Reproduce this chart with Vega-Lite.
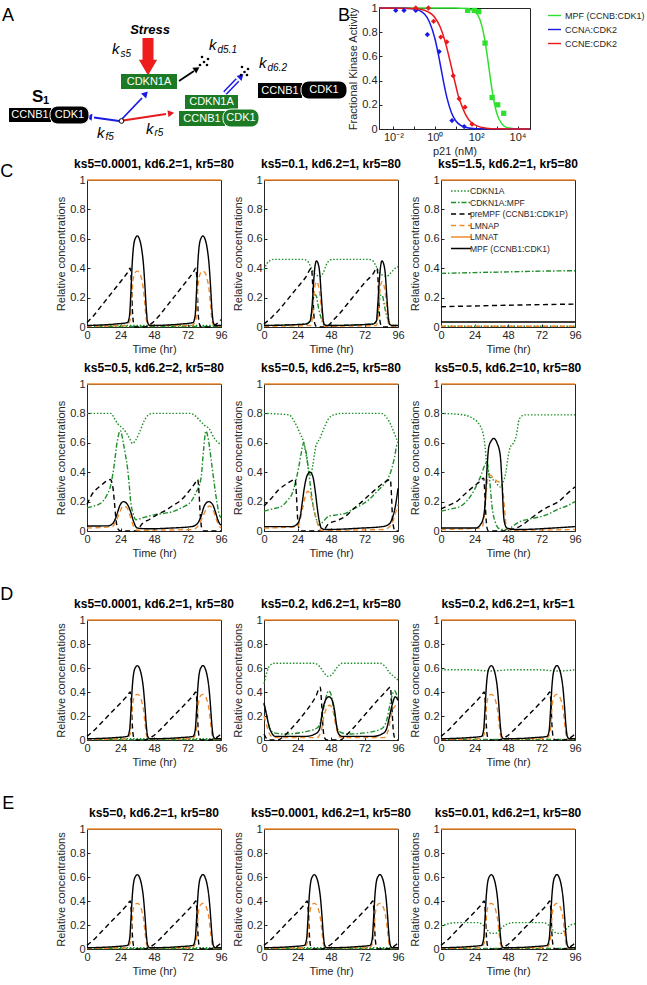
{
"$schema":"https://vega.github.io/schema/vega-lite/v6.json",
"padding":{"top":1,"left":0,"right":0,"bottom":0},
"background":"white",
"config":{
 "font":"Liberation Sans",
 "view":{"stroke":"#262626","strokeWidth":1},
 "axis":{"grid":false,"domainColor":"#262626","tickColor":"#262626","labelColor":"#262626","titleColor":"#262626","labelFontSize":11,"titleFontSize":11,"titleFontWeight":"normal","tickSize":-3,"labelPadding":5,"labelFlush":false,"labelOverlap":false,"labelBound":false,"titlePadding":3},
 "title":{"fontSize":12,"fontWeight":"bold","offset":3,"color":"#000000"},
 "line":{"strokeWidth":1.4,"interpolate":"monotone"}
},
"datasets":{
"lowA":[{"s":"A","t":0,"v":0.01},{"s":"A","t":96,"v":0.01},{"s":"AM","t":0,"v":0.003},{"s":"AM","t":96,"v":0.003}],
"base":[
{"s":"P","t":0,"v":0.03},{"s":"P","t":5,"v":0.08},{"s":"P","t":10,"v":0.14},{"s":"P","t":15,"v":0.2},{"s":"P","t":20,"v":0.26},{"s":"P","t":25,"v":0.32},{"s":"P","t":29,"v":0.37},{"s":"P","t":31,"v":0.4},{"s":"P","t":31.8,"v":0.3},{"s":"P","t":32.5,"v":0.12},{"s":"P","t":33.5,"v":0.02},{"s":"P","t":35,"v":0},{"s":"P","t":41,"v":0},{"s":"P","t":44,"v":0.01},{"s":"P","t":47,"v":0.03},{"s":"P","t":52,"v":0.08},{"s":"P","t":57,"v":0.14},{"s":"P","t":62,"v":0.2},{"s":"P","t":67,"v":0.26},{"s":"P","t":72,"v":0.32},{"s":"P","t":76,"v":0.37},{"s":"P","t":78,"v":0.4},{"s":"P","t":78.8,"v":0.3},{"s":"P","t":79.5,"v":0.12},{"s":"P","t":80.5,"v":0.02},{"s":"P","t":82,"v":0},{"s":"P","t":88,"v":0},{"s":"P","t":91,"v":0.01},{"s":"P","t":94,"v":0.03},{"s":"P","t":96,"v":0.05},
{"s":"LP","t":0,"v":0.005},{"s":"LP","t":28,"v":0.01},{"s":"LP","t":31,"v":0.05},{"s":"LP","t":32,"v":0.2},{"s":"LP","t":33,"v":0.32},{"s":"LP","t":34.5,"v":0.37},{"s":"LP","t":36,"v":0.38},{"s":"LP","t":37.5,"v":0.37},{"s":"LP","t":39,"v":0.33},{"s":"LP","t":40.5,"v":0.25},{"s":"LP","t":41.5,"v":0.15},{"s":"LP","t":42.5,"v":0.05},{"s":"LP","t":44,"v":0.01},{"s":"LP","t":75,"v":0.01},{"s":"LP","t":78,"v":0.05},{"s":"LP","t":79,"v":0.2},{"s":"LP","t":80,"v":0.32},{"s":"LP","t":81.5,"v":0.37},{"s":"LP","t":83,"v":0.38},{"s":"LP","t":84.5,"v":0.37},{"s":"LP","t":86,"v":0.33},{"s":"LP","t":87.5,"v":0.25},{"s":"LP","t":88.5,"v":0.15},{"s":"LP","t":89.5,"v":0.05},{"s":"LP","t":91,"v":0.01},{"s":"LP","t":96,"v":0.005},
{"s":"LT","t":0,"v":1},{"s":"LT","t":96,"v":1},
{"s":"M","t":0,"v":0.01},{"s":"M","t":20,"v":0.02},{"s":"M","t":29,"v":0.03},{"s":"M","t":30.5,"v":0.08},{"s":"M","t":31.5,"v":0.25},{"s":"M","t":32.5,"v":0.45},{"s":"M","t":33.5,"v":0.56},{"s":"M","t":35,"v":0.61},{"s":"M","t":36,"v":0.62},{"s":"M","t":37.5,"v":0.6},{"s":"M","t":39,"v":0.54},{"s":"M","t":40.5,"v":0.42},{"s":"M","t":41.5,"v":0.28},{"s":"M","t":42.5,"v":0.12},{"s":"M","t":43.5,"v":0.03},{"s":"M","t":45,"v":0.01},{"s":"M","t":67,"v":0.02},{"s":"M","t":76,"v":0.03},{"s":"M","t":77.5,"v":0.08},{"s":"M","t":78.5,"v":0.25},{"s":"M","t":79.5,"v":0.45},{"s":"M","t":80.5,"v":0.56},{"s":"M","t":82,"v":0.61},{"s":"M","t":83,"v":0.62},{"s":"M","t":84.5,"v":0.6},{"s":"M","t":86,"v":0.54},{"s":"M","t":87.5,"v":0.42},{"s":"M","t":88.5,"v":0.28},{"s":"M","t":89.5,"v":0.12},{"s":"M","t":90.5,"v":0.03},{"s":"M","t":92,"v":0.01},{"s":"M","t":96,"v":0.01}],
"c2":[
{"s":"A","t":0,"v":0.39},{"s":"A","t":2,"v":0.43},{"s":"A","t":4,"v":0.45},{"s":"A","t":7,"v":0.46},{"s":"A","t":28,"v":0.46},{"s":"A","t":31,"v":0.45},{"s":"A","t":33,"v":0.42},{"s":"A","t":35,"v":0.38},{"s":"A","t":37.5,"v":0.355},{"s":"A","t":40.5,"v":0.345},{"s":"A","t":42.5,"v":0.37},{"s":"A","t":44.5,"v":0.42},{"s":"A","t":46.5,"v":0.45},{"s":"A","t":49,"v":0.46},{"s":"A","t":75,"v":0.46},{"s":"A","t":78,"v":0.45},{"s":"A","t":80,"v":0.42},{"s":"A","t":82,"v":0.38},{"s":"A","t":84.5,"v":0.355},{"s":"A","t":88,"v":0.345},{"s":"A","t":90,"v":0.36},{"s":"A","t":92,"v":0.38},{"s":"A","t":94,"v":0.4},{"s":"A","t":96,"v":0.41},
{"s":"AM","t":0,"v":0.01},{"s":"AM","t":30,"v":0.02},{"s":"AM","t":33,"v":0.04},{"s":"AM","t":34.5,"v":0.12},{"s":"AM","t":35.5,"v":0.2},{"s":"AM","t":36.5,"v":0.22},{"s":"AM","t":37.5,"v":0.21},{"s":"AM","t":38.5,"v":0.16},{"s":"AM","t":39.5,"v":0.11},{"s":"AM","t":41,"v":0.06},{"s":"AM","t":42.5,"v":0.02},{"s":"AM","t":44,"v":0.01},{"s":"AM","t":78,"v":0.02},{"s":"AM","t":80.5,"v":0.04},{"s":"AM","t":82,"v":0.12},{"s":"AM","t":83,"v":0.2},{"s":"AM","t":84,"v":0.22},{"s":"AM","t":85,"v":0.21},{"s":"AM","t":86,"v":0.16},{"s":"AM","t":87,"v":0.11},{"s":"AM","t":88.5,"v":0.06},{"s":"AM","t":90,"v":0.02},{"s":"AM","t":92,"v":0.01},{"s":"AM","t":96,"v":0.01},
{"s":"P","t":0,"v":0.02},{"s":"P","t":6,"v":0.07},{"s":"P","t":12,"v":0.13},{"s":"P","t":18,"v":0.2},{"s":"P","t":24,"v":0.27},{"s":"P","t":30,"v":0.34},{"s":"P","t":34,"v":0.4},{"s":"P","t":34.8,"v":0.3},{"s":"P","t":35.5,"v":0.12},{"s":"P","t":36.5,"v":0.02},{"s":"P","t":38,"v":0},{"s":"P","t":43,"v":0},{"s":"P","t":46,"v":0.01},{"s":"P","t":50,"v":0.05},{"s":"P","t":54,"v":0.09},{"s":"P","t":60,"v":0.16},{"s":"P","t":66,"v":0.23},{"s":"P","t":72,"v":0.3},{"s":"P","t":78,"v":0.36},{"s":"P","t":81,"v":0.4},{"s":"P","t":81.8,"v":0.3},{"s":"P","t":82.5,"v":0.12},{"s":"P","t":83.5,"v":0.02},{"s":"P","t":85,"v":0},{"s":"P","t":92,"v":0},{"s":"P","t":96,"v":0.02},
{"s":"LP","t":0,"v":0.005},{"s":"LP","t":33.5,"v":0.01},{"s":"LP","t":34.5,"v":0.05},{"s":"LP","t":35.5,"v":0.18},{"s":"LP","t":36.5,"v":0.28},{"s":"LP","t":37.7,"v":0.31},{"s":"LP","t":39,"v":0.28},{"s":"LP","t":40.3,"v":0.2},{"s":"LP","t":41.3,"v":0.1},{"s":"LP","t":42.3,"v":0.02},{"s":"LP","t":44,"v":0.005},{"s":"LP","t":80.5,"v":0.01},{"s":"LP","t":81.5,"v":0.05},{"s":"LP","t":82.5,"v":0.18},{"s":"LP","t":83.5,"v":0.28},{"s":"LP","t":84.7,"v":0.31},{"s":"LP","t":86,"v":0.28},{"s":"LP","t":87.3,"v":0.2},{"s":"LP","t":88.3,"v":0.1},{"s":"LP","t":89.3,"v":0.02},{"s":"LP","t":91,"v":0.005},{"s":"LP","t":96,"v":0.005},
{"s":"LT","t":0,"v":1},{"s":"LT","t":96,"v":1},
{"s":"M","t":0,"v":0.01},{"s":"M","t":30,"v":0.02},{"s":"M","t":33,"v":0.04},{"s":"M","t":34.5,"v":0.15},{"s":"M","t":35.5,"v":0.3},{"s":"M","t":36.5,"v":0.41},{"s":"M","t":37.6,"v":0.45},{"s":"M","t":38.8,"v":0.43},{"s":"M","t":40,"v":0.36},{"s":"M","t":41,"v":0.22},{"s":"M","t":42,"v":0.09},{"s":"M","t":43,"v":0.02},{"s":"M","t":45,"v":0.01},{"s":"M","t":78,"v":0.02},{"s":"M","t":80.5,"v":0.04},{"s":"M","t":81.5,"v":0.15},{"s":"M","t":82.5,"v":0.3},{"s":"M","t":83.5,"v":0.41},{"s":"M","t":84.5,"v":0.45},{"s":"M","t":85.7,"v":0.43},{"s":"M","t":86.9,"v":0.36},{"s":"M","t":87.9,"v":0.22},{"s":"M","t":88.9,"v":0.09},{"s":"M","t":89.9,"v":0.02},{"s":"M","t":92,"v":0.01},{"s":"M","t":96,"v":0.01}],
"c3":[
{"s":"A","t":0,"v":0.005},{"s":"A","t":96,"v":0.005},
{"s":"AM","t":0,"v":0.365},{"s":"AM","t":24,"v":0.37},{"s":"AM","t":48,"v":0.375},{"s":"AM","t":72,"v":0.38},{"s":"AM","t":96,"v":0.383},
{"s":"P","t":0,"v":0.138},{"s":"P","t":48,"v":0.148},{"s":"P","t":96,"v":0.156},
{"s":"LP","t":0,"v":0.005},{"s":"LP","t":96,"v":0.005},
{"s":"LT","t":0,"v":1},{"s":"LT","t":96,"v":1},
{"s":"M","t":0,"v":0.034},{"s":"M","t":96,"v":0.034}],
"c4":[
{"s":"A","t":0,"v":0.8},{"s":"A","t":17,"v":0.8},{"s":"A","t":20,"v":0.76},{"s":"A","t":22,"v":0.73},{"s":"A","t":25.5,"v":0.7},{"s":"A","t":28,"v":0.67},{"s":"A","t":30.5,"v":0.63},{"s":"A","t":32.7,"v":0.595},{"s":"A","t":35,"v":0.62},{"s":"A","t":38,"v":0.68},{"s":"A","t":41,"v":0.75},{"s":"A","t":44,"v":0.79},{"s":"A","t":47,"v":0.8},{"s":"A","t":74,"v":0.8},{"s":"A","t":78,"v":0.78},{"s":"A","t":81,"v":0.75},{"s":"A","t":84,"v":0.72},{"s":"A","t":88,"v":0.69},{"s":"A","t":90,"v":0.65},{"s":"A","t":93,"v":0.61},{"s":"A","t":96,"v":0.59},
{"s":"AM","t":0,"v":0.158},{"s":"AM","t":5,"v":0.17},{"s":"AM","t":10,"v":0.19},{"s":"AM","t":14,"v":0.24},{"s":"AM","t":17.2,"v":0.32},{"s":"AM","t":19.5,"v":0.45},{"s":"AM","t":21.5,"v":0.6},{"s":"AM","t":23.9,"v":0.683},{"s":"AM","t":26,"v":0.6},{"s":"AM","t":27.5,"v":0.52},{"s":"AM","t":29,"v":0.43},{"s":"AM","t":30.2,"v":0.32},{"s":"AM","t":31.3,"v":0.2},{"s":"AM","t":33,"v":0.12},{"s":"AM","t":35,"v":0.077},{"s":"AM","t":40,"v":0.09},{"s":"AM","t":48,"v":0.11},{"s":"AM","t":55,"v":0.12},{"s":"AM","t":62.5,"v":0.135},{"s":"AM","t":68,"v":0.16},{"s":"AM","t":74.5,"v":0.2},{"s":"AM","t":78,"v":0.26},{"s":"AM","t":81.7,"v":0.36},{"s":"AM","t":83.5,"v":0.55},{"s":"AM","t":85.2,"v":0.68},{"s":"AM","t":87,"v":0.62},{"s":"AM","t":89,"v":0.48},{"s":"AM","t":91.2,"v":0.32},{"s":"AM","t":93,"v":0.2},{"s":"AM","t":94.8,"v":0.11},{"s":"AM","t":96,"v":0.09},
{"s":"P","t":0,"v":0.18},{"s":"P","t":3,"v":0.24},{"s":"P","t":10,"v":0.31},{"s":"P","t":14,"v":0.34},{"s":"P","t":16.7,"v":0.35},{"s":"P","t":18.5,"v":0.3},{"s":"P","t":19.6,"v":0.2},{"s":"P","t":21,"v":0.06},{"s":"P","t":22.5,"v":0.01},{"s":"P","t":24,"v":0},{"s":"P","t":36,"v":0},{"s":"P","t":38.7,"v":0.04},{"s":"P","t":45,"v":0.08},{"s":"P","t":50,"v":0.11},{"s":"P","t":55.4,"v":0.135},{"s":"P","t":61,"v":0.17},{"s":"P","t":67.3,"v":0.21},{"s":"P","t":73,"v":0.27},{"s":"P","t":77,"v":0.32},{"s":"P","t":79.3,"v":0.35},{"s":"P","t":80.3,"v":0.25},{"s":"P","t":81.2,"v":0.1},{"s":"P","t":82.2,"v":0.02},{"s":"P","t":84,"v":0},{"s":"P","t":96,"v":0},
{"s":"LP","t":0,"v":0.02},{"s":"LP","t":18,"v":0.03},{"s":"LP","t":21,"v":0.07},{"s":"LP","t":23.5,"v":0.13},{"s":"LP","t":26,"v":0.17},{"s":"LP","t":28.5,"v":0.16},{"s":"LP","t":31,"v":0.1},{"s":"LP","t":33,"v":0.04},{"s":"LP","t":36,"v":0.005},{"s":"LP","t":76,"v":0.01},{"s":"LP","t":80,"v":0.04},{"s":"LP","t":83,"v":0.1},{"s":"LP","t":85.5,"v":0.15},{"s":"LP","t":88,"v":0.17},{"s":"LP","t":90.5,"v":0.14},{"s":"LP","t":93,"v":0.07},{"s":"LP","t":95,"v":0.03},{"s":"LP","t":96,"v":0.02},
{"s":"LT","t":0,"v":1},{"s":"LT","t":96,"v":1},
{"s":"M","t":0,"v":0.034},{"s":"M","t":15,"v":0.035},{"s":"M","t":18.4,"v":0.05},{"s":"M","t":21,"v":0.1},{"s":"M","t":23.4,"v":0.17},{"s":"M","t":26.2,"v":0.2},{"s":"M","t":29,"v":0.18},{"s":"M","t":31.3,"v":0.13},{"s":"M","t":33.2,"v":0.07},{"s":"M","t":36,"v":0.02},{"s":"M","t":45,"v":0.015},{"s":"M","t":60,"v":0.02},{"s":"M","t":75,"v":0.03},{"s":"M","t":79,"v":0.05},{"s":"M","t":81.7,"v":0.1},{"s":"M","t":84,"v":0.17},{"s":"M","t":87.2,"v":0.2},{"s":"M","t":90,"v":0.18},{"s":"M","t":92,"v":0.13},{"s":"M","t":93.6,"v":0.08},{"s":"M","t":95,"v":0.05},{"s":"M","t":96,"v":0.04}],
"c5":[
{"s":"A","t":0,"v":0.8},{"s":"A","t":18,"v":0.79},{"s":"A","t":22,"v":0.74},{"s":"A","t":26,"v":0.66},{"s":"A","t":28.5,"v":0.6},{"s":"A","t":30.5,"v":0.5},{"s":"A","t":32,"v":0.42},{"s":"A","t":33.5,"v":0.38},{"s":"A","t":35,"v":0.45},{"s":"A","t":37,"v":0.57},{"s":"A","t":40,"v":0.63},{"s":"A","t":43,"v":0.7},{"s":"A","t":46,"v":0.76},{"s":"A","t":50,"v":0.79},{"s":"A","t":56,"v":0.8},{"s":"A","t":84,"v":0.8},{"s":"A","t":88,"v":0.77},{"s":"A","t":91,"v":0.72},{"s":"A","t":94,"v":0.65},{"s":"A","t":96,"v":0.6},
{"s":"AM","t":0,"v":0.135},{"s":"AM","t":6,"v":0.15},{"s":"AM","t":12.9,"v":0.17},{"s":"AM","t":17,"v":0.21},{"s":"AM","t":20,"v":0.25},{"s":"AM","t":22.5,"v":0.33},{"s":"AM","t":24.8,"v":0.43},{"s":"AM","t":26.7,"v":0.53},{"s":"AM","t":28.4,"v":0.6},{"s":"AM","t":29.6,"v":0.56},{"s":"AM","t":30.8,"v":0.5},{"s":"AM","t":32,"v":0.4},{"s":"AM","t":33.2,"v":0.31},{"s":"AM","t":34.4,"v":0.22},{"s":"AM","t":35.6,"v":0.15},{"s":"AM","t":37.5,"v":0.08},{"s":"AM","t":39.2,"v":0.04},{"s":"AM","t":42,"v":0.06},{"s":"AM","t":46.3,"v":0.1},{"s":"AM","t":52,"v":0.11},{"s":"AM","t":58.3,"v":0.12},{"s":"AM","t":64,"v":0.15},{"s":"AM","t":70.2,"v":0.18},{"s":"AM","t":76,"v":0.22},{"s":"AM","t":82.1,"v":0.28},{"s":"AM","t":87,"v":0.33},{"s":"AM","t":89.5,"v":0.37},{"s":"AM","t":91.7,"v":0.43},{"s":"AM","t":93.5,"v":0.5},{"s":"AM","t":95.3,"v":0.59},{"s":"AM","t":96,"v":0.6},
{"s":"P","t":0,"v":0.17},{"s":"P","t":5,"v":0.22},{"s":"P","t":10.5,"v":0.28},{"s":"P","t":16,"v":0.32},{"s":"P","t":22.4,"v":0.35},{"s":"P","t":23.2,"v":0.25},{"s":"P","t":24,"v":0.1},{"s":"P","t":25,"v":0.02},{"s":"P","t":27,"v":0},{"s":"P","t":42,"v":0},{"s":"P","t":46.3,"v":0.05},{"s":"P","t":52,"v":0.07},{"s":"P","t":58.3,"v":0.1},{"s":"P","t":64,"v":0.15},{"s":"P","t":70.2,"v":0.2},{"s":"P","t":76,"v":0.25},{"s":"P","t":82.1,"v":0.3},{"s":"P","t":86,"v":0.33},{"s":"P","t":90.5,"v":0.35},{"s":"P","t":91.3,"v":0.25},{"s":"P","t":92,"v":0.1},{"s":"P","t":93,"v":0.02},{"s":"P","t":94,"v":0},{"s":"P","t":96,"v":0},
{"s":"LP","t":0,"v":0.02},{"s":"LP","t":24,"v":0.03},{"s":"LP","t":26,"v":0.08},{"s":"LP","t":28,"v":0.17},{"s":"LP","t":30,"v":0.25},{"s":"LP","t":31.5,"v":0.27},{"s":"LP","t":33,"v":0.25},{"s":"LP","t":35,"v":0.18},{"s":"LP","t":37,"v":0.1},{"s":"LP","t":39,"v":0.03},{"s":"LP","t":41,"v":0.005},{"s":"LP","t":86,"v":0.01},{"s":"LP","t":90,"v":0.03},{"s":"LP","t":92.5,"v":0.07},{"s":"LP","t":94.5,"v":0.13},{"s":"LP","t":96,"v":0.18},
{"s":"LT","t":0,"v":1},{"s":"LT","t":96,"v":1},
{"s":"M","t":0,"v":0.03},{"s":"M","t":20,"v":0.03},{"s":"M","t":24,"v":0.05},{"s":"M","t":26,"v":0.1},{"s":"M","t":27.5,"v":0.2},{"s":"M","t":29,"v":0.3},{"s":"M","t":31,"v":0.38},{"s":"M","t":33,"v":0.4},{"s":"M","t":35,"v":0.37},{"s":"M","t":36,"v":0.32},{"s":"M","t":37,"v":0.25},{"s":"M","t":38,"v":0.17},{"s":"M","t":39,"v":0.1},{"s":"M","t":40,"v":0.05},{"s":"M","t":41,"v":0.02},{"s":"M","t":44,"v":0.01},{"s":"M","t":70,"v":0.02},{"s":"M","t":85,"v":0.03},{"s":"M","t":90,"v":0.05},{"s":"M","t":92,"v":0.09},{"s":"M","t":93.5,"v":0.14},{"s":"M","t":95,"v":0.22},{"s":"M","t":96,"v":0.29}],
"c6":[
{"s":"A","t":0,"v":0.8},{"s":"A","t":16,"v":0.79},{"s":"A","t":22,"v":0.77},{"s":"A","t":27,"v":0.73},{"s":"A","t":30,"v":0.67},{"s":"A","t":31.5,"v":0.58},{"s":"A","t":32.5,"v":0.48},{"s":"A","t":34,"v":0.4},{"s":"A","t":36,"v":0.36},{"s":"A","t":38.5,"v":0.34},{"s":"A","t":41,"v":0.31},{"s":"A","t":42.5,"v":0.3},{"s":"A","t":44.5,"v":0.33},{"s":"A","t":46.5,"v":0.4},{"s":"A","t":48,"v":0.5},{"s":"A","t":49.6,"v":0.57},{"s":"A","t":52,"v":0.6},{"s":"A","t":54,"v":0.65},{"s":"A","t":56,"v":0.76},{"s":"A","t":60,"v":0.79},{"s":"A","t":96,"v":0.79},
{"s":"AM","t":0,"v":0.135},{"s":"AM","t":7,"v":0.15},{"s":"AM","t":14.3,"v":0.17},{"s":"AM","t":19,"v":0.21},{"s":"AM","t":23.9,"v":0.28},{"s":"AM","t":26.5,"v":0.33},{"s":"AM","t":28.7,"v":0.38},{"s":"AM","t":31,"v":0.44},{"s":"AM","t":33,"v":0.47},{"s":"AM","t":34,"v":0.42},{"s":"AM","t":35.3,"v":0.3},{"s":"AM","t":36.5,"v":0.17},{"s":"AM","t":37.7,"v":0.1},{"s":"AM","t":38.9,"v":0.06},{"s":"AM","t":41,"v":0.02},{"s":"AM","t":44,"v":0.01},{"s":"AM","t":48,"v":0.01},{"s":"AM","t":51,"v":0.03},{"s":"AM","t":55.7,"v":0.06},{"s":"AM","t":62.8,"v":0.08},{"s":"AM","t":72.3,"v":0.1},{"s":"AM","t":78,"v":0.12},{"s":"AM","t":84.3,"v":0.15},{"s":"AM","t":90,"v":0.17},{"s":"AM","t":96,"v":0.2},
{"s":"P","t":0,"v":0.15},{"s":"P","t":5.5,"v":0.175},{"s":"P","t":11.2,"v":0.2},{"s":"P","t":17,"v":0.25},{"s":"P","t":23,"v":0.3},{"s":"P","t":27,"v":0.33},{"s":"P","t":30.6,"v":0.36},{"s":"P","t":31.4,"v":0.25},{"s":"P","t":32.2,"v":0.1},{"s":"P","t":33,"v":0.02},{"s":"P","t":34,"v":0},{"s":"P","t":44,"v":0},{"s":"P","t":50,"v":0.01},{"s":"P","t":54,"v":0.02},{"s":"P","t":58,"v":0.04},{"s":"P","t":65,"v":0.09},{"s":"P","t":72.3,"v":0.14},{"s":"P","t":78,"v":0.17},{"s":"P","t":84.3,"v":0.2},{"s":"P","t":90,"v":0.25},{"s":"P","t":96,"v":0.3},
{"s":"LP","t":0,"v":0.01},{"s":"LP","t":29,"v":0.02},{"s":"LP","t":31,"v":0.1},{"s":"LP","t":32.5,"v":0.28},{"s":"LP","t":34,"v":0.37},{"s":"LP","t":35.5,"v":0.38},{"s":"LP","t":37.5,"v":0.36},{"s":"LP","t":40,"v":0.34},{"s":"LP","t":42,"v":0.33},{"s":"LP","t":44,"v":0.3},{"s":"LP","t":45.5,"v":0.15},{"s":"LP","t":47,"v":0.02},{"s":"LP","t":50,"v":0.005},{"s":"LP","t":96,"v":0.01},
{"s":"LT","t":0,"v":1},{"s":"LT","t":96,"v":1},
{"s":"M","t":0,"v":0.02},{"s":"M","t":25,"v":0.02},{"s":"M","t":28,"v":0.04},{"s":"M","t":30.6,"v":0.1},{"s":"M","t":31.7,"v":0.2},{"s":"M","t":33,"v":0.43},{"s":"M","t":34.2,"v":0.57},{"s":"M","t":36.5,"v":0.62},{"s":"M","t":37.7,"v":0.63},{"s":"M","t":40.1,"v":0.6},{"s":"M","t":42.5,"v":0.51},{"s":"M","t":43.7,"v":0.33},{"s":"M","t":44.9,"v":0.1},{"s":"M","t":46,"v":0.04},{"s":"M","t":47.3,"v":0.02},{"s":"M","t":55,"v":0.01},{"s":"M","t":80,"v":0.02},{"s":"M","t":96,"v":0.03}],
"d2":[
{"s":"A","t":0,"v":0.47},{"s":"A","t":2,"v":0.56},{"s":"A","t":4,"v":0.62},{"s":"A","t":8,"v":0.64},{"s":"A","t":36,"v":0.64},{"s":"A","t":40,"v":0.61},{"s":"A","t":43,"v":0.56},{"s":"A","t":46,"v":0.53},{"s":"A","t":49,"v":0.55},{"s":"A","t":52,"v":0.6},{"s":"A","t":56,"v":0.64},{"s":"A","t":83,"v":0.64},{"s":"A","t":87,"v":0.61},{"s":"A","t":90,"v":0.56},{"s":"A","t":93,"v":0.53},{"s":"A","t":96,"v":0.5},
{"s":"AM","t":0,"v":0.3},{"s":"AM","t":2,"v":0.2},{"s":"AM","t":4,"v":0.1},{"s":"AM","t":7,"v":0.06},{"s":"AM","t":15,"v":0.05},{"s":"AM","t":30,"v":0.07},{"s":"AM","t":38,"v":0.1},{"s":"AM","t":41,"v":0.17},{"s":"AM","t":43,"v":0.28},{"s":"AM","t":45,"v":0.38},{"s":"AM","t":46.5,"v":0.41},{"s":"AM","t":48,"v":0.38},{"s":"AM","t":50,"v":0.25},{"s":"AM","t":52,"v":0.12},{"s":"AM","t":54,"v":0.07},{"s":"AM","t":60,"v":0.05},{"s":"AM","t":78,"v":0.07},{"s":"AM","t":85,"v":0.1},{"s":"AM","t":88,"v":0.17},{"s":"AM","t":90,"v":0.28},{"s":"AM","t":92,"v":0.38},{"s":"AM","t":93.5,"v":0.41},{"s":"AM","t":95,"v":0.38},{"s":"AM","t":96,"v":0.34},
{"s":"P","t":0,"v":0.05},{"s":"P","t":2,"v":0.01},{"s":"P","t":4,"v":0},{"s":"P","t":10,"v":0},{"s":"P","t":14,"v":0.03},{"s":"P","t":20,"v":0.1},{"s":"P","t":26,"v":0.18},{"s":"P","t":32,"v":0.27},{"s":"P","t":37,"v":0.36},{"s":"P","t":40.3,"v":0.44},{"s":"P","t":41.3,"v":0.3},{"s":"P","t":42.3,"v":0.1},{"s":"P","t":43.3,"v":0.02},{"s":"P","t":45,"v":0},{"s":"P","t":55,"v":0},{"s":"P","t":58,"v":0.03},{"s":"P","t":64,"v":0.1},{"s":"P","t":70,"v":0.18},{"s":"P","t":76,"v":0.26},{"s":"P","t":82,"v":0.34},{"s":"P","t":87,"v":0.4},{"s":"P","t":90.5,"v":0.44},{"s":"P","t":91.5,"v":0.3},{"s":"P","t":92.5,"v":0.1},{"s":"P","t":93.5,"v":0.02},{"s":"P","t":96,"v":0},
{"s":"LP","t":0,"v":0.2},{"s":"LP","t":2,"v":0.12},{"s":"LP","t":4,"v":0.05},{"s":"LP","t":7,"v":0.02},{"s":"LP","t":38,"v":0.02},{"s":"LP","t":41,"v":0.08},{"s":"LP","t":43,"v":0.2},{"s":"LP","t":45,"v":0.27},{"s":"LP","t":47,"v":0.29},{"s":"LP","t":49,"v":0.26},{"s":"LP","t":51,"v":0.15},{"s":"LP","t":53,"v":0.05},{"s":"LP","t":55,"v":0.02},{"s":"LP","t":86,"v":0.02},{"s":"LP","t":89,"v":0.08},{"s":"LP","t":91,"v":0.2},{"s":"LP","t":93,"v":0.27},{"s":"LP","t":95,"v":0.29},{"s":"LP","t":96,"v":0.28},
{"s":"LT","t":0,"v":1},{"s":"LT","t":96,"v":1},
{"s":"M","t":0,"v":0.31},{"s":"M","t":2,"v":0.2},{"s":"M","t":4,"v":0.1},{"s":"M","t":6,"v":0.05},{"s":"M","t":8,"v":0.03},{"s":"M","t":30,"v":0.03},{"s":"M","t":38,"v":0.06},{"s":"M","t":40,"v":0.1},{"s":"M","t":42,"v":0.25},{"s":"M","t":44,"v":0.33},{"s":"M","t":46.5,"v":0.36},{"s":"M","t":48.5,"v":0.34},{"s":"M","t":50.5,"v":0.25},{"s":"M","t":52,"v":0.12},{"s":"M","t":53.5,"v":0.05},{"s":"M","t":56,"v":0.03},{"s":"M","t":78,"v":0.03},{"s":"M","t":86,"v":0.06},{"s":"M","t":88,"v":0.1},{"s":"M","t":90,"v":0.2},{"s":"M","t":92,"v":0.3},{"s":"M","t":94,"v":0.36},{"s":"M","t":96,"v":0.33}],
"d3x":[{"s":"A","t":0,"v":0.585},{"s":"A","t":20,"v":0.585},{"s":"A","t":36,"v":0.575},{"s":"A","t":50,"v":0.585},{"s":"A","t":70,"v":0.585},{"s":"A","t":84,"v":0.575},{"s":"A","t":96,"v":0.585},{"s":"AM","t":0,"v":0.005},{"s":"AM","t":96,"v":0.005}],
"e3x":[{"s":"A","t":0,"v":0.19},{"s":"A","t":5,"v":0.21},{"s":"A","t":12,"v":0.22},{"s":"A","t":26,"v":0.22},{"s":"A","t":30,"v":0.2},{"s":"A","t":33,"v":0.16},{"s":"A","t":36,"v":0.13},{"s":"A","t":39,"v":0.13},{"s":"A","t":42,"v":0.16},{"s":"A","t":46,"v":0.2},{"s":"A","t":52,"v":0.22},{"s":"A","t":73,"v":0.22},{"s":"A","t":77,"v":0.2},{"s":"A","t":80,"v":0.16},{"s":"A","t":83,"v":0.13},{"s":"A","t":86,"v":0.13},{"s":"A","t":89,"v":0.16},{"s":"A","t":93,"v":0.2},{"s":"A","t":96,"v":0.21},{"s":"AM","t":0,"v":0.005},{"s":"AM","t":96,"v":0.005}],
"bcurve":[
{"g":"MPF (CCNB:CDK1)","x":0.002,"y":1},{"g":"MPF (CCNB:CDK1)","x":10,"y":1},{"g":"MPF (CCNB:CDK1)","x":31.6,"y":0.9965},{"g":"MPF (CCNB:CDK1)","x":100,"y":0.959},{"g":"MPF (CCNB:CDK1)","x":178,"y":0.867},{"g":"MPF (CCNB:CDK1)","x":237,"y":0.776},{"g":"MPF (CCNB:CDK1)","x":316,"y":0.647},{"g":"MPF (CCNB:CDK1)","x":417,"y":0.5},{"g":"MPF (CCNB:CDK1)","x":562,"y":0.341},{"g":"MPF (CCNB:CDK1)","x":750,"y":0.216},{"g":"MPF (CCNB:CDK1)","x":1000,"y":0.127},{"g":"MPF (CCNB:CDK1)","x":1778,"y":0.04},{"g":"MPF (CCNB:CDK1)","x":3162,"y":0.0115},{"g":"MPF (CCNB:CDK1)","x":10000,"y":0.001},{"g":"MPF (CCNB:CDK1)","x":40000,"y":0},
{"g":"CCNA:CDK2","x":0.002,"y":1},{"g":"CCNA:CDK2","x":0.03,"y":0.998},{"g":"CCNA:CDK2","x":0.1,"y":0.992},{"g":"CCNA:CDK2","x":0.316,"y":0.95},{"g":"CCNA:CDK2","x":0.562,"y":0.88},{"g":"CCNA:CDK2","x":1,"y":0.75},{"g":"CCNA:CDK2","x":1.41,"y":0.635},{"g":"CCNA:CDK2","x":2,"y":0.5},{"g":"CCNA:CDK2","x":2.82,"y":0.365},{"g":"CCNA:CDK2","x":3.98,"y":0.249},{"g":"CCNA:CDK2","x":6.31,"y":0.137},{"g":"CCNA:CDK2","x":10,"y":0.07},{"g":"CCNA:CDK2","x":17.8,"y":0.029},{"g":"CCNA:CDK2","x":31.6,"y":0.012},{"g":"CCNA:CDK2","x":100,"y":0.002},{"g":"CCNA:CDK2","x":40000,"y":0},
{"g":"CCNE:CDK2","x":0.002,"y":1},{"g":"CCNE:CDK2","x":0.1,"y":0.996},{"g":"CCNE:CDK2","x":0.316,"y":0.981},{"g":"CCNE:CDK2","x":1,"y":0.921},{"g":"CCNE:CDK2","x":1.78,"y":0.847},{"g":"CCNE:CDK2","x":3.16,"y":0.722},{"g":"CCNE:CDK2","x":4.64,"y":0.61},{"g":"CCNE:CDK2","x":6.61,"y":0.5},{"g":"CCNE:CDK2","x":10,"y":0.368},{"g":"CCNE:CDK2","x":13.3,"y":0.28},{"g":"CCNE:CDK2","x":17.8,"y":0.216},{"g":"CCNE:CDK2","x":31.6,"y":0.115},{"g":"CCNE:CDK2","x":56.2,"y":0.055},{"g":"CCNE:CDK2","x":100,"y":0.028},{"g":"CCNE:CDK2","x":316,"y":0.0065},{"g":"CCNE:CDK2","x":1000,"y":0.0015},{"g":"CCNE:CDK2","x":40000,"y":0}],
"bpts":[
{"g":"CCNA:CDK2","x":0.0129,"y":0.98},{"g":"CCNA:CDK2","x":0.0324,"y":0.98},{"g":"CCNA:CDK2","x":0.12,"y":0.98},{"g":"CCNA:CDK2","x":0.437,"y":0.78},{"g":"CCNA:CDK2","x":1.62,"y":0.64},{"g":"CCNA:CDK2","x":6.76,"y":0.07},{"g":"CCNA:CDK2","x":26.3,"y":0.02},
{"g":"CCNE:CDK2","x":0.12,"y":1},{"g":"CCNE:CDK2","x":0.49,"y":1},{"g":"CCNE:CDK2","x":0.87,"y":0.89},{"g":"CCNE:CDK2","x":1.95,"y":0.76},{"g":"CCNE:CDK2","x":3.8,"y":0.72},{"g":"CCNE:CDK2","x":7.76,"y":0.44},{"g":"CCNE:CDK2","x":15.1,"y":0.25},{"g":"CCNE:CDK2","x":28.8,"y":0.18},{"g":"CCNE:CDK2","x":63,"y":0.04},
{"g":"MPF (CCNB:CDK1)","x":38.9,"y":0.98},{"g":"MPF (CCNB:CDK1)","x":81.3,"y":0.98},{"g":"MPF (CCNB:CDK1)","x":132,"y":0.97},{"g":"MPF (CCNB:CDK1)","x":269,"y":0.71},{"g":"MPF (CCNB:CDK1)","x":589,"y":0.26},{"g":"MPF (CCNB:CDK1)","x":1096,"y":0.2},{"g":"MPF (CCNB:CDK1)","x":2138,"y":0.13}],
"dbox":[{"x":8,"x2":50,"y":107,"y2":121,"k":"b"},{"x":257,"x2":301,"y":82,"y2":97,"k":"b"},{"x":120,"x2":176,"y":73,"y2":88,"k":"g"},{"x":184,"x2":237,"y":94,"y2":108,"k":"g"},{"x":178,"x2":224,"y":110,"y2":125,"k":"g"}],
"dpill":[{"x":49,"x2":88,"y":105,"y2":123,"k":"b"},{"x":300,"x2":346,"y":80,"y2":98,"k":"b"},{"x":222,"x2":258,"y":108,"y2":126,"k":"g"}],
"dboxtxt":[{"x":29,"y":114,"l":"CCNB1"},{"x":68.5,"y":114,"l":"CDK1"},{"x":279,"y":89.5,"l":"CCNB1"},{"x":323,"y":89,"l":"CDK1"},{"x":148,"y":80.5,"l":"CDKN1A"},{"x":210.5,"y":101,"l":"CDKN1A"},{"x":201,"y":117.5,"l":"CCNB1"},{"x":240,"y":117,"l":"CDK1"}],
"darrow":[{"x":118,"y":120,"x2":93,"y2":116.5,"c":"blue"},{"x":121,"y":118,"x2":141,"y2":97,"c":"blue"},{"x":122,"y":119.5,"x2":165,"y2":113,"c":"red"},{"x":178,"y":80,"x2":193,"y2":70,"c":"black"}],
"ddouble":[{"x":224,"y":92,"x2":236.5,"y2":79}],
"dhead":[{"x":89,"y":116,"a":277,"c":"blue"},{"x":144,"y":93.5,"a":44,"c":"blue"},{"x":169,"y":112.4,"a":81,"c":"red"},{"x":195,"y":68.5,"a":56,"c":"black"},{"x":239.5,"y":76,"a":45,"c":"blue"}],
"dstress":[{"x":147,"y":37,"x2":147,"y2":59}],
"dstresshead":[{"x":147,"y":64,"a":180}],
"ddots":[{"x":201,"y":56},{"x":207,"y":58},{"x":203,"y":61},{"x":199,"y":64},{"x":206,"y":64},{"x":241,"y":66},{"x":247,"y":68},{"x":243.5,"y":71},{"x":240,"y":74},{"x":246,"y":74}],
"djunc":[{"x":120.5,"y":120}],
"dk":[{"x":111,"y":48,"l":"k"},{"x":208,"y":44,"l":"k"},{"x":258,"y":62,"l":"k"},{"x":96,"y":132,"l":"k"},{"x":145,"y":128,"l":"k"}],
"dksub":[{"x":119.5,"y":53,"l":"s5"},{"x":216.5,"y":49,"l":"d5.1"},{"x":266.5,"y":67,"l":"d6.2"},{"x":104.5,"y":136,"l":"f5"},{"x":153.5,"y":132,"l":"r5"}],
"dstresstxt":[{"x":149,"y":29,"l":"Stress"}],
"dS":[{"x":31,"y":96,"l":"S"}],
"dS1":[{"x":42,"y":100,"l":"1"}],
"dletters":[{"x":7,"y":15,"l":"A"},{"x":343,"y":15,"l":"B"}]
},
"spacing":0,
"vconcat":[
{"hconcat":[
 {"width":244,"height":140,"view":{"stroke":null},
  "encoding":{"x":{"field":"x","type":"quantitative","scale":{"domain":[86,330]},"axis":null},"y":{"field":"y","type":"quantitative","scale":{"domain":[7,147],"reverse":true},"axis":null}},
  "layer":[
   {"data":{"name":"dstress"},"mark":{"type":"rule","color":"#ee1c1c","strokeWidth":11},"encoding":{"x2":{"field":"x2"},"y2":{"field":"y2"}}},
   {"data":{"name":"dstresshead"},"mark":{"type":"point","shape":"triangle","filled":true,"color":"#ee1c1c","size":330,"opacity":1},"encoding":{"angle":{"field":"a","type":"quantitative","scale":null}}},
   {"data":{"name":"darrow"},"mark":{"type":"rule","strokeWidth":1.8},"encoding":{"x2":{"field":"x2"},"y2":{"field":"y2"},"color":{"field":"c","type":"nominal","scale":{"domain":["blue","red","black"],"range":["#1a1ae6","#e8191c","#000000"]},"legend":null}}},
   {"data":{"name":"ddouble"},"mark":{"type":"rule","strokeWidth":5,"color":"#1a1ae6"},"encoding":{"x2":{"field":"x2"},"y2":{"field":"y2"}}},
   {"data":{"name":"ddouble"},"mark":{"type":"rule","strokeWidth":2,"color":"#ffffff"},"encoding":{"x2":{"field":"x2"},"y2":{"field":"y2"}}},
   {"data":{"name":"dhead"},"mark":{"type":"point","shape":"triangle","filled":true,"size":50,"opacity":1},"encoding":{"angle":{"field":"a","type":"quantitative","scale":null},"color":{"field":"c","type":"nominal","scale":{"domain":["blue","red","black"],"range":["#1a1ae6","#e8191c","#000000"]},"legend":null}}},
   {"data":{"name":"dbox"},"mark":{"type":"rect"},"encoding":{"x2":{"field":"x2"},"y2":{"field":"y2"},"fill":{"field":"k","type":"nominal","scale":{"domain":["b","g"],"range":["#000000","#1d7a24"]},"legend":null}}},
   {"data":{"name":"dpill"},"mark":{"type":"rect","cornerRadius":8,"stroke":"#ffffff","strokeWidth":1},"encoding":{"x2":{"field":"x2"},"y2":{"field":"y2"},"fill":{"field":"k","type":"nominal","scale":{"domain":["b","g"],"range":["#000000","#1d7a24"]},"legend":null}}},
   {"data":{"name":"dboxtxt"},"mark":{"type":"text","color":"#ffffff","fontSize":11,"align":"center","baseline":"middle"},"encoding":{"text":{"field":"l"}}},
   {"data":{"name":"ddots"},"mark":{"type":"circle","color":"#000000","size":7,"opacity":1},"encoding":{}},
   {"data":{"name":"djunc"},"mark":{"type":"point","shape":"circle","filled":true,"fill":"#ffffff","stroke":"#000000","strokeWidth":1,"size":22,"opacity":1},"encoding":{}},
   {"data":{"name":"dk"},"mark":{"type":"text","fontSize":15,"fontStyle":"italic","align":"left","baseline":"middle","color":"#000000"},"encoding":{"text":{"field":"l"}}},
   {"data":{"name":"dksub"},"mark":{"type":"text","fontSize":10,"fontStyle":"italic","align":"left","baseline":"middle","color":"#000000"},"encoding":{"text":{"field":"l"}}},
   {"data":{"name":"dstresstxt"},"mark":{"type":"text","fontSize":13,"fontStyle":"italic","fontWeight":"bold","align":"center","baseline":"middle","color":"#000000"},"encoding":{"text":{"field":"l"}}},
   {"data":{"name":"dS"},"mark":{"type":"text","fontSize":17,"fontWeight":"bold","align":"left","baseline":"middle","color":"#000000"},"encoding":{"text":{"field":"l"}}},
   {"data":{"name":"dS1"},"mark":{"type":"text","fontSize":11,"fontWeight":"bold","align":"left","baseline":"middle","color":"#000000"},"encoding":{"text":{"field":"l"}}},
   {"data":{"name":"dletters"},"mark":{"type":"text","fontSize":18,"align":"center","baseline":"middle","color":"#000000"},"encoding":{"text":{"field":"l"}}}
  ]},
 {"width":151,"height":121,
  "encoding":{
     "x":{"field":"x","type":"quantitative","scale":{"type":"log","domain":[0.002,40000]},"axis":{"values":[0.01,0.1,1,10,100,1000,10000],"labelExpr":"datum.value==0.01?'10⁻²':datum.value==1?'10⁰':datum.value==100?'10²':datum.value==10000?'10⁴':''","title":"p21 (nM)"}},
     "y":{"field":"y","type":"quantitative","scale":{"domain":[0,1]},"axis":{"values":[0,0.2,0.4,0.6,0.8,1],"format":"~g","title":"Fractional Kinase Activity"}},
     "color":{"field":"g","type":"nominal","scale":{"domain":["MPF (CCNB:CDK1)","CCNA:CDK2","CCNE:CDK2"],"range":["#2ee02e","#1a1ae6","#e8191c"]},"legend":{"title":null,"orient":"right","offset":14,"symbolType":"stroke","symbolSize":169,"symbolStrokeWidth":1.5,"labelFontSize":9,"labelOffset":3,"rowPadding":1,"padding":0,"labelColor":"#262626"}}},
  "layer":[
   {"data":{"name":"bcurve"},"mark":{"type":"line","strokeWidth":1.5}},
   {"data":{"name":"bpts"},"mark":{"type":"point","filled":true,"size":28,"opacity":1},
    "encoding":{"shape":{"field":"g","type":"nominal","scale":{"domain":["MPF (CCNB:CDK1)","CCNA:CDK2","CCNE:CDK2"],"range":["square","diamond","diamond"]},"legend":null}}}
  ]}
 ],"spacing":48,"bounds":"flush","resolve":{"scale":{"color":"independent"}}},
{"vconcat":[
 {"vconcat":[
  {"hconcat":[
   {"width":134,"height":147,"title":{"text":"ks5=0.0001, kd6.2=1, kr5=80"},
    "encoding":{"x":{"field":"t","type":"quantitative","scale":{"domain":[0,96]},"axis":{"values":[0,24,48,72,96],"title":"Time (hr)"}},"y":{"field":"v","type":"quantitative","scale":{"domain":[0,1]},"axis":{"values":[0,0.2,0.4,0.6,0.8,1],"format":"~g","title":"Relative concentrations"}},"color":{"field":"s","type":"nominal","scale":{"domain":["A","AM","P","LP","LT","M"],"range":["#1f8f2a","#1f8f2a","#000000","#ef8a2c","#ef8a2c","#000000"]},"legend":null},"strokeDash":{"field":"s","type":"nominal","scale":{"domain":["A","AM","P","LP","LT","M"],"range":[[1.5,1.8],[5,2,1.5,2],[5,3.5],[5,3.5],[1,0],[1,0]]},"legend":null}},
    "layer":[{"data":{"name":"lowA"},"mark":"line"},{"data":{"name":"base"},"mark":"line"}]},
   {"width":134,"height":147,"title":{"text":"ks5=0.1, kd6.2=1, kr5=80"},
    "encoding":{"x":{"field":"t","type":"quantitative","scale":{"domain":[0,96]},"axis":{"values":[0,24,48,72,96],"title":"Time (hr)"}},"y":{"field":"v","type":"quantitative","scale":{"domain":[0,1]},"axis":{"values":[0,0.2,0.4,0.6,0.8,1],"format":"~g","title":"Relative concentrations"}},"color":{"field":"s","type":"nominal","scale":{"domain":["A","AM","P","LP","LT","M"],"range":["#1f8f2a","#1f8f2a","#000000","#ef8a2c","#ef8a2c","#000000"]},"legend":null},"strokeDash":{"field":"s","type":"nominal","scale":{"domain":["A","AM","P","LP","LT","M"],"range":[[1.5,1.8],[5,2,1.5,2],[5,3.5],[5,3.5],[1,0],[1,0]]},"legend":null}},
    "layer":[{"data":{"name":"c2"},"mark":"line"}]},
   {"width":134,"height":147,"title":{"text":"ks5=1.5, kd6.2=1, kr5=80"},
    "encoding":{"x":{"field":"t","type":"quantitative","scale":{"domain":[0,96]},"axis":{"values":[0,24,48,72,96],"title":"Time (hr)"}},"y":{"field":"v","type":"quantitative","scale":{"domain":[0,1]},"axis":{"values":[0,0.2,0.4,0.6,0.8,1],"format":"~g","title":"Relative concentrations"}},
     "color":{"field":"s","type":"nominal","scale":{"domain":["A","AM","P","LP","LT","M"],"range":["#1f8f2a","#1f8f2a","#000000","#ef8a2c","#ef8a2c","#000000"]},"legend":{"orient":"none","legendX":14,"legendY":5,"title":null,"symbolType":"M-2,0H2","symbolSize":100,"symbolStrokeWidth":1.4,"symbolFillColor":"transparent","labelFontSize":8.5,"rowPadding":0.5,"padding":0,"labelOffset":3,"labelColor":"#262626","labelExpr":"datum.label=='A'?'CDKN1A':datum.label=='AM'?'CDKN1A:MPF':datum.label=='P'?'preMPF (CCNB1:CDK1P)':datum.label=='LP'?'LMNAP':datum.label=='LT'?'LMNAT':'MPF (CCNB1:CDK1)'"}},
     "strokeDash":{"field":"s","type":"nominal","scale":{"domain":["A","AM","P","LP","LT","M"],"range":[[1.5,1.8],[5,2,1.5,2],[5,3.5],[5,3.5],[1,0],[1,0]]},"legend":{"orient":"none","legendX":14,"legendY":5,"title":null,"symbolType":"M-2,0H2","symbolSize":100,"symbolStrokeWidth":1.4,"symbolFillColor":"transparent","labelFontSize":8.5,"rowPadding":0.5,"padding":0,"labelOffset":3,"labelColor":"#262626","labelExpr":"datum.label=='A'?'CDKN1A':datum.label=='AM'?'CDKN1A:MPF':datum.label=='P'?'preMPF (CCNB1:CDK1P)':datum.label=='LP'?'LMNAP':datum.label=='LT'?'LMNAT':'MPF (CCNB1:CDK1)'"}}},
    "layer":[{"data":{"name":"c3"},"mark":"line"}]}
  ],"spacing":43,"bounds":"flush","resolve":{"scale":{"color":"independent","strokeDash":"independent"}}},
  {"hconcat":[
   {"width":134,"height":147,"title":{"text":"ks5=0.5, kd6.2=2, kr5=80"},
    "encoding":{"x":{"field":"t","type":"quantitative","scale":{"domain":[0,96]},"axis":{"values":[0,24,48,72,96],"title":"Time (hr)"}},"y":{"field":"v","type":"quantitative","scale":{"domain":[0,1]},"axis":{"values":[0,0.2,0.4,0.6,0.8,1],"format":"~g","title":"Relative concentrations"}},"color":{"field":"s","type":"nominal","scale":{"domain":["A","AM","P","LP","LT","M"],"range":["#1f8f2a","#1f8f2a","#000000","#ef8a2c","#ef8a2c","#000000"]},"legend":null},"strokeDash":{"field":"s","type":"nominal","scale":{"domain":["A","AM","P","LP","LT","M"],"range":[[1.5,1.8],[5,2,1.5,2],[5,3.5],[5,3.5],[1,0],[1,0]]},"legend":null}},
    "layer":[{"data":{"name":"c4"},"mark":"line"}]},
   {"width":134,"height":147,"title":{"text":"ks5=0.5, kd6.2=5, kr5=80"},
    "encoding":{"x":{"field":"t","type":"quantitative","scale":{"domain":[0,96]},"axis":{"values":[0,24,48,72,96],"title":"Time (hr)"}},"y":{"field":"v","type":"quantitative","scale":{"domain":[0,1]},"axis":{"values":[0,0.2,0.4,0.6,0.8,1],"format":"~g","title":"Relative concentrations"}},"color":{"field":"s","type":"nominal","scale":{"domain":["A","AM","P","LP","LT","M"],"range":["#1f8f2a","#1f8f2a","#000000","#ef8a2c","#ef8a2c","#000000"]},"legend":null},"strokeDash":{"field":"s","type":"nominal","scale":{"domain":["A","AM","P","LP","LT","M"],"range":[[1.5,1.8],[5,2,1.5,2],[5,3.5],[5,3.5],[1,0],[1,0]]},"legend":null}},
    "layer":[{"data":{"name":"c5"},"mark":"line"}]},
   {"width":134,"height":147,"title":{"text":"ks5=0.5, kd6.2=10, kr5=80"},
    "encoding":{"x":{"field":"t","type":"quantitative","scale":{"domain":[0,96]},"axis":{"values":[0,24,48,72,96],"title":"Time (hr)"}},"y":{"field":"v","type":"quantitative","scale":{"domain":[0,1]},"axis":{"values":[0,0.2,0.4,0.6,0.8,1],"format":"~g","title":"Relative concentrations"}},"color":{"field":"s","type":"nominal","scale":{"domain":["A","AM","P","LP","LT","M"],"range":["#1f8f2a","#1f8f2a","#000000","#ef8a2c","#ef8a2c","#000000"]},"legend":null},"strokeDash":{"field":"s","type":"nominal","scale":{"domain":["A","AM","P","LP","LT","M"],"range":[[1.5,1.8],[5,2,1.5,2],[5,3.5],[5,3.5],[1,0],[1,0]]},"legend":null}},
    "layer":[{"data":{"name":"c6"},"mark":"line"}]}
  ],"spacing":43,"bounds":"flush","resolve":{"scale":{"color":"independent","strokeDash":"independent"}}}
 ],"spacing":6,"title":{"text":"C","orient":"left","anchor":"end","angle":0,"fontSize":18,"fontWeight":"normal","offset":29,"baseline":"top","align":"right","dy":5},"resolve":{"scale":{"color":"independent","strokeDash":"independent"}}},
 {"vconcat":[
  {"hconcat":[
   {"width":134,"height":120,"title":{"text":"ks5=0.0001, kd6.2=1, kr5=80"},
    "encoding":{"x":{"field":"t","type":"quantitative","scale":{"domain":[0,96]},"axis":{"values":[0,24,48,72,96],"title":"Time (hr)"}},"y":{"field":"v","type":"quantitative","scale":{"domain":[0,1]},"axis":{"values":[0,0.2,0.4,0.6,0.8,1],"format":"~g","title":"Relative concentrations"}},"color":{"field":"s","type":"nominal","scale":{"domain":["A","AM","P","LP","LT","M"],"range":["#1f8f2a","#1f8f2a","#000000","#ef8a2c","#ef8a2c","#000000"]},"legend":null},"strokeDash":{"field":"s","type":"nominal","scale":{"domain":["A","AM","P","LP","LT","M"],"range":[[1.5,1.8],[5,2,1.5,2],[5,3.5],[5,3.5],[1,0],[1,0]]},"legend":null}},
    "layer":[{"data":{"name":"lowA"},"mark":"line"},{"data":{"name":"base"},"mark":"line"}]},
   {"width":134,"height":120,"title":{"text":"ks5=0.2, kd6.2=1, kr5=80"},
    "encoding":{"x":{"field":"t","type":"quantitative","scale":{"domain":[0,96]},"axis":{"values":[0,24,48,72,96],"title":"Time (hr)"}},"y":{"field":"v","type":"quantitative","scale":{"domain":[0,1]},"axis":{"values":[0,0.2,0.4,0.6,0.8,1],"format":"~g","title":"Relative concentrations"}},"color":{"field":"s","type":"nominal","scale":{"domain":["A","AM","P","LP","LT","M"],"range":["#1f8f2a","#1f8f2a","#000000","#ef8a2c","#ef8a2c","#000000"]},"legend":null},"strokeDash":{"field":"s","type":"nominal","scale":{"domain":["A","AM","P","LP","LT","M"],"range":[[1.5,1.8],[5,2,1.5,2],[5,3.5],[5,3.5],[1,0],[1,0]]},"legend":null}},
    "layer":[{"data":{"name":"d2"},"mark":"line"}]},
   {"width":134,"height":120,"title":{"text":"ks5=0.2, kd6.2=1, kr5=1"},
    "encoding":{"x":{"field":"t","type":"quantitative","scale":{"domain":[0,96]},"axis":{"values":[0,24,48,72,96],"title":"Time (hr)"}},"y":{"field":"v","type":"quantitative","scale":{"domain":[0,1]},"axis":{"values":[0,0.2,0.4,0.6,0.8,1],"format":"~g","title":"Relative concentrations"}},"color":{"field":"s","type":"nominal","scale":{"domain":["A","AM","P","LP","LT","M"],"range":["#1f8f2a","#1f8f2a","#000000","#ef8a2c","#ef8a2c","#000000"]},"legend":null},"strokeDash":{"field":"s","type":"nominal","scale":{"domain":["A","AM","P","LP","LT","M"],"range":[[1.5,1.8],[5,2,1.5,2],[5,3.5],[5,3.5],[1,0],[1,0]]},"legend":null}},
    "layer":[{"data":{"name":"d3x"},"mark":"line"},{"data":{"name":"base"},"mark":"line"}]}
  ],"spacing":43,"bounds":"flush","title":{"text":"D","orient":"left","anchor":"end","angle":0,"fontSize":18,"fontWeight":"normal","offset":29,"baseline":"top","align":"right","dy":-12},"resolve":{"scale":{"color":"independent","strokeDash":"independent"}}},
  {"hconcat":[
   {"width":134,"height":120,"title":{"text":"ks5=0, kd6.2=1, kr5=80"},
    "encoding":{"x":{"field":"t","type":"quantitative","scale":{"domain":[0,96]},"axis":{"values":[0,24,48,72,96],"title":"Time (hr)"}},"y":{"field":"v","type":"quantitative","scale":{"domain":[0,1]},"axis":{"values":[0,0.2,0.4,0.6,0.8,1],"format":"~g","title":"Relative concentrations"}},"color":{"field":"s","type":"nominal","scale":{"domain":["A","AM","P","LP","LT","M"],"range":["#1f8f2a","#1f8f2a","#000000","#ef8a2c","#ef8a2c","#000000"]},"legend":null},"strokeDash":{"field":"s","type":"nominal","scale":{"domain":["A","AM","P","LP","LT","M"],"range":[[1.5,1.8],[5,2,1.5,2],[5,3.5],[5,3.5],[1,0],[1,0]]},"legend":null}},
    "layer":[{"data":{"name":"lowA"},"mark":"line"},{"data":{"name":"base"},"mark":"line"}]},
   {"width":134,"height":120,"title":{"text":"ks5=0.0001, kd6.2=1, kr5=80"},
    "encoding":{"x":{"field":"t","type":"quantitative","scale":{"domain":[0,96]},"axis":{"values":[0,24,48,72,96],"title":"Time (hr)"}},"y":{"field":"v","type":"quantitative","scale":{"domain":[0,1]},"axis":{"values":[0,0.2,0.4,0.6,0.8,1],"format":"~g","title":"Relative concentrations"}},"color":{"field":"s","type":"nominal","scale":{"domain":["A","AM","P","LP","LT","M"],"range":["#1f8f2a","#1f8f2a","#000000","#ef8a2c","#ef8a2c","#000000"]},"legend":null},"strokeDash":{"field":"s","type":"nominal","scale":{"domain":["A","AM","P","LP","LT","M"],"range":[[1.5,1.8],[5,2,1.5,2],[5,3.5],[5,3.5],[1,0],[1,0]]},"legend":null}},
    "layer":[{"data":{"name":"lowA"},"mark":"line"},{"data":{"name":"base"},"mark":"line"}]},
   {"width":134,"height":120,"title":{"text":"ks5=0.01, kd6.2=1, kr5=80"},
    "encoding":{"x":{"field":"t","type":"quantitative","scale":{"domain":[0,96]},"axis":{"values":[0,24,48,72,96],"title":"Time (hr)"}},"y":{"field":"v","type":"quantitative","scale":{"domain":[0,1]},"axis":{"values":[0,0.2,0.4,0.6,0.8,1],"format":"~g","title":"Relative concentrations"}},"color":{"field":"s","type":"nominal","scale":{"domain":["A","AM","P","LP","LT","M"],"range":["#1f8f2a","#1f8f2a","#000000","#ef8a2c","#ef8a2c","#000000"]},"legend":null},"strokeDash":{"field":"s","type":"nominal","scale":{"domain":["A","AM","P","LP","LT","M"],"range":[[1.5,1.8],[5,2,1.5,2],[5,3.5],[5,3.5],[1,0],[1,0]]},"legend":null}},
    "layer":[{"data":{"name":"e3x"},"mark":"line"},{"data":{"name":"base"},"mark":"line"}]}
  ],"spacing":43,"bounds":"flush","title":{"text":"E","orient":"left","anchor":"end","angle":0,"fontSize":18,"fontWeight":"normal","offset":29,"baseline":"top","align":"right","dy":-12},"resolve":{"scale":{"color":"independent","strokeDash":"independent"}}}
 ],"spacing":26,"resolve":{"scale":{"color":"independent","strokeDash":"independent"}}}
],"spacing":26,"resolve":{"scale":{"color":"independent","strokeDash":"independent"}}}
],
"resolve":{"scale":{"color":"independent","strokeDash":"independent"}}
}
